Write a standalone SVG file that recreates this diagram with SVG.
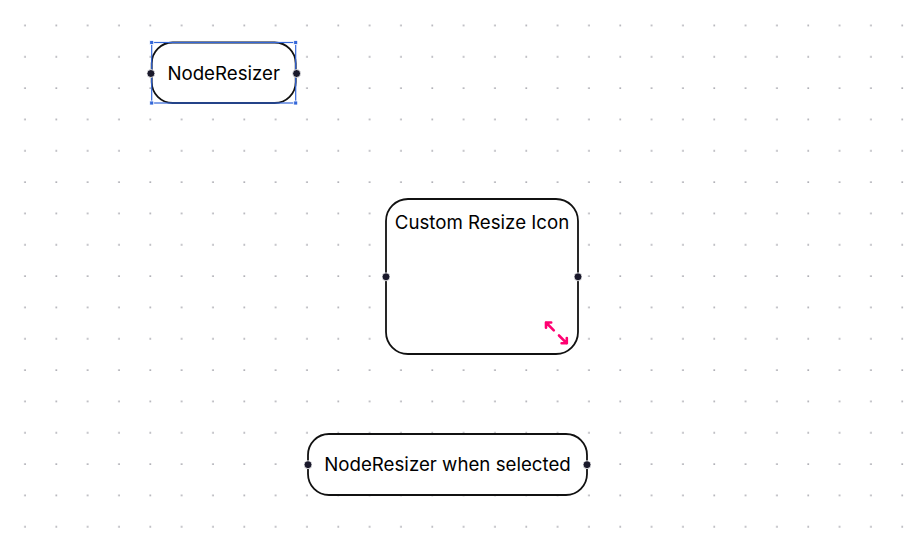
<svg xmlns="http://www.w3.org/2000/svg" width="921" height="553" viewBox="0 0 921 553">
  <defs>
    <pattern id="dots" x="23.9" y="24.4" width="31.33" height="31.33" patternUnits="userSpaceOnUse">
      <circle cx="1.1" cy="1.1" r="0.9" fill="#9a9aa2"/>
    </pattern>
    <style>
      .node { fill: #ffffff; stroke: #111111; stroke-width: 1.8; }
      .label { font-family: Inter, "Liberation Sans", sans-serif; font-size: 18.7px; fill: #000000; text-anchor: middle; }
      .handle { fill: #1a192b; stroke: #ffffff; stroke-width: 0.8; }
      .sel { fill: none; stroke: #3367d9; stroke-width: 1.2; }
      .selh { fill: #3367d9; stroke: #ffffff; stroke-width: 0.8; }
      .icon { fill: none; stroke: #ff0071; stroke-linecap: round; stroke-linejoin: round; }
    </style>
  </defs>
  <rect width="921" height="553" fill="#ffffff"/>
  <rect width="921" height="553" fill="url(#dots)"/>
  <g id="connectors"></g>

  <g id="node-resizer">
    <rect class="node" x="151.7" y="42.5" width="144" height="60.5" rx="21" ry="21"/>
    <rect class="sel" x="151.7" y="42.5" width="144" height="60.5"/>
    <rect class="selh" x="149.7" y="40.5" width="4" height="4"/>
    <rect class="selh" x="293.7" y="40.5" width="4" height="4"/>
    <rect class="selh" x="149.7" y="101" width="4" height="4"/>
    <rect class="selh" x="293.7" y="101" width="4" height="4"/>
    <text class="label" x="223.7" y="79.8">NodeResizer</text>
    <circle class="handle" cx="150.9" cy="73.5" r="4"/>
    <circle class="handle" cx="296.6" cy="73.5" r="4"/>
  </g>

  <g id="custom-resize-icon">
    <rect class="node" x="386" y="199" width="192" height="155" rx="22" ry="22"/>
    <text class="label" x="482" y="228.8">Custom Resize Icon</text>
    <g transform="translate(540.8 317.3) scale(1.3)">
      <path class="icon" d="M16 20 L20 20 L20 16 M14 14 L20 20 M8 4 L4 4 L4 8 M4 4 L10 10" stroke-width="2"/>
    </g>
    <circle class="handle" cx="386" cy="276.8" r="4"/>
    <circle class="handle" cx="578" cy="276.8" r="4"/>
  </g>

  <g id="node-resizer-selected">
    <rect class="node" x="308" y="434" width="279" height="61" rx="21" ry="21"/>
    <text class="label" x="447.5" y="471.3">NodeResizer when selected</text>
    <circle class="handle" cx="308" cy="464.7" r="4"/>
    <circle class="handle" cx="587" cy="464.7" r="4"/>
  </g>
</svg>
